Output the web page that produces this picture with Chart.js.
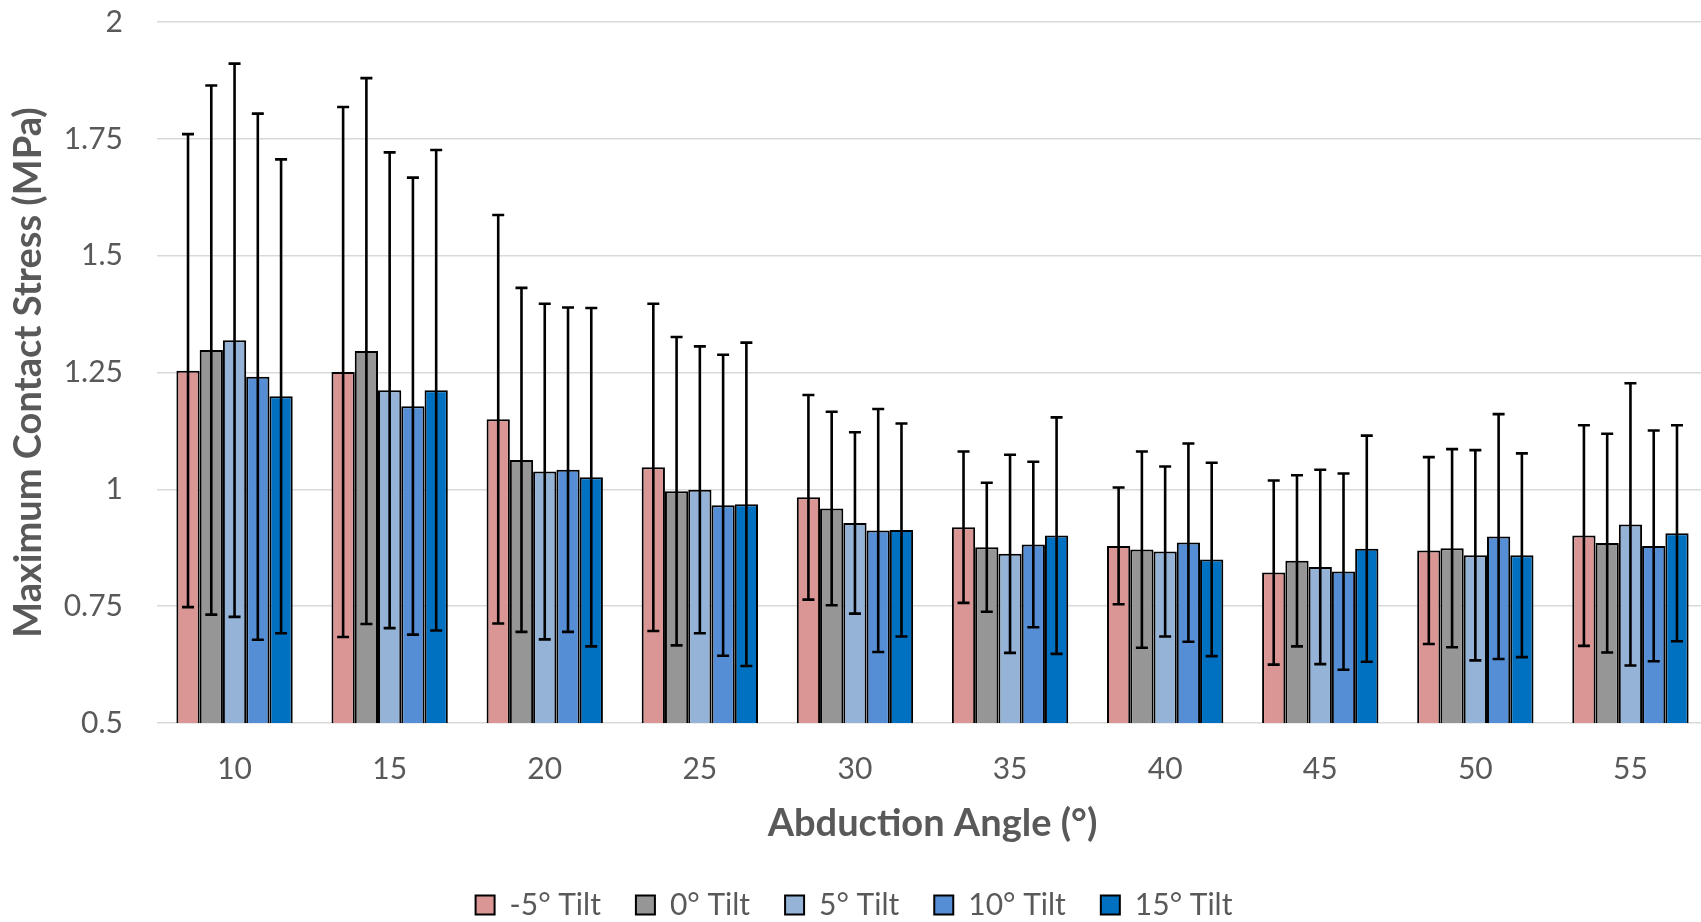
<!DOCTYPE html>
<html>
<head>
<meta charset="utf-8">
<script src="https://cdn.jsdelivr.net/npm/chart.js@4.4.1/dist/chart.umd.min.js"></script>
<style>
  html, body { margin: 0; padding: 0; background: #ffffff; overflow: hidden; }
  #wrap { position: absolute; left: 0; top: 0; width: 1708px; height: 930px; }
</style>
</head>
<body>
<div id="wrap"><canvas id="c" width="1708" height="930" style="width:1708px;height:930px"></canvas></div>
<script>
// ---- data ----
const categories = ['10', '15', '20', '25', '30', '35', '40', '45', '50', '55'];
const seriesNames = ['-5° Tilt', '0° Tilt', '5° Tilt', '10° Tilt', '15° Tilt'];

const meanTiltM5 = [1.254, 1.251, 1.150, 1.047, 0.983, 0.919, 0.879, 0.822, 0.869, 0.901];
const errTiltM5  = [0.506, 0.567, 0.437, 0.350, 0.219, 0.162, 0.125, 0.197, 0.200, 0.236];

const meanTilt0 = [1.298, 1.296, 1.063, 0.996, 0.959, 0.876, 0.871, 0.847, 0.874, 0.885];
const errTilt0  = [0.566, 0.584, 0.368, 0.330, 0.207, 0.138, 0.210, 0.183, 0.212, 0.234];

const meanTilt5 = [1.319, 1.212, 1.038, 0.999, 0.928, 0.862, 0.867, 0.834, 0.859, 0.925];
const errTilt5  = [0.592, 0.509, 0.359, 0.307, 0.194, 0.212, 0.182, 0.208, 0.225, 0.302];

const meanTilt10 = [1.241, 1.178, 1.042, 0.966, 0.912, 0.882, 0.886, 0.824, 0.899, 0.879];
const errTilt10  = [0.563, 0.489, 0.347, 0.322, 0.260, 0.177, 0.212, 0.210, 0.262, 0.247];

const meanTilt15 = [1.199, 1.212, 1.026, 0.968, 0.913, 0.901, 0.850, 0.873, 0.859, 0.906];
const errTilt15  = [0.507, 0.514, 0.362, 0.346, 0.228, 0.253, 0.207, 0.242, 0.218, 0.231];

const yTickValues = [0.5, 0.75, 1, 1.25, 1.5, 1.75, 2];
const yTitle = 'Maximum Contact Stress (MPa)';
const xTitle = 'Abduction Angle (°)';

// ---- styles ----
const seriesColors = ['#DA9694', '#969696', '#95B3D7', '#558ED5', '#0070C0'];
const FONT = 'Lato, "Open Sans", "Noto Sans", sans-serif';
const TEXT = '#595959';

const means = [meanTiltM5, meanTilt0, meanTilt5, meanTilt10, meanTilt15];
const errs = [errTiltM5, errTilt0, errTilt5, errTilt10, errTilt15];

const datasets = seriesNames.map((name, i) => ({
  label: name,
  data: means[i],
  errors: errs[i],
  backgroundColor: seriesColors[i],
  borderColor: '#000000',
  borderWidth: 2,
  categoryPercentage: 0.75,
  barPercentage: 1.0
}));

const errorBarPlugin = {
  id: 'errorBars',
  afterDatasetsDraw(chart) {
    const ctx = chart.ctx;
    const yScale = chart.scales.y;
    const area = chart.chartArea;
    ctx.save();
    ctx.beginPath();
    ctx.rect(area.left, 0, area.right - area.left, chart.height);
    ctx.clip();
    ctx.strokeStyle = '#000000';
    ctx.lineWidth = 2.6;
    ctx.lineCap = 'butt';
    chart.data.datasets.forEach((ds, i) => {
      const meta = chart.getDatasetMeta(i);
      meta.data.forEach((el, j) => {
        const m = ds.data[j], e = ds.errors[j];
        const x = el.x;
        const yTop = yScale.getPixelForValue(m + e);
        const yBot = yScale.getPixelForValue(m - e);
        const cap = 6;
        ctx.beginPath();
        ctx.moveTo(x, yTop); ctx.lineTo(x, yBot);
        ctx.moveTo(x - cap, yTop); ctx.lineTo(x + cap, yTop);
        ctx.moveTo(x - cap, yBot); ctx.lineTo(x + cap, yBot);
        ctx.stroke();
      });
    });
    ctx.restore();
  }
};

new Chart(document.getElementById('c'), {
  type: 'bar',
  data: { labels: categories, datasets },
  plugins: [errorBarPlugin],
  options: {
    responsive: false,
    devicePixelRatio: 1,
    animation: false,
    layout: { padding: { top: 22, right: 0, bottom: 0, left: 0 } },
    plugins: {
      tooltip: { enabled: false },
      legend: {
        position: 'bottom',
        labels: {
          font: { family: FONT, size: 30 },
          color: TEXT,
          boxWidth: 19,
          boxHeight: 19,
          padding: 35
        }
      }
    },
    scales: {
      x: {
        grid: { display: false, drawTicks: false },
        border: { display: false },
        ticks: { font: { family: FONT, size: 30 }, color: TEXT, padding: 28, maxRotation: 0 },
        title: {
          display: true, text: xTitle, color: TEXT,
          font: { family: FONT, size: 38, weight: 'bold' },
          padding: { top: 0, bottom: 8 }
        },
        afterFit(scale) { scale.height = 132; }
      },
      y: {
        min: 0.5, max: 2, beginAtZero: false,
        afterBuildTicks(scale) { scale.ticks = yTickValues.map(v => ({ value: v })); },
        grid: { color: '#D9D9D9', lineWidth: 1.5, drawTicks: true, tickLength: 32, tickColor: 'rgba(0,0,0,0)' },
        border: { display: false },
        ticks: { font: { family: FONT, size: 30 }, color: TEXT, padding: 2, callback: v => String(v) },
        title: {
          display: true, text: yTitle, color: TEXT,
          font: { family: FONT, size: 38, weight: 'bold' },
          padding: { top: 6, bottom: 0 }
        },
        afterFit(scale) { scale.width = 157; }
      }
    }
  }
});
</script>
</body>
</html>
